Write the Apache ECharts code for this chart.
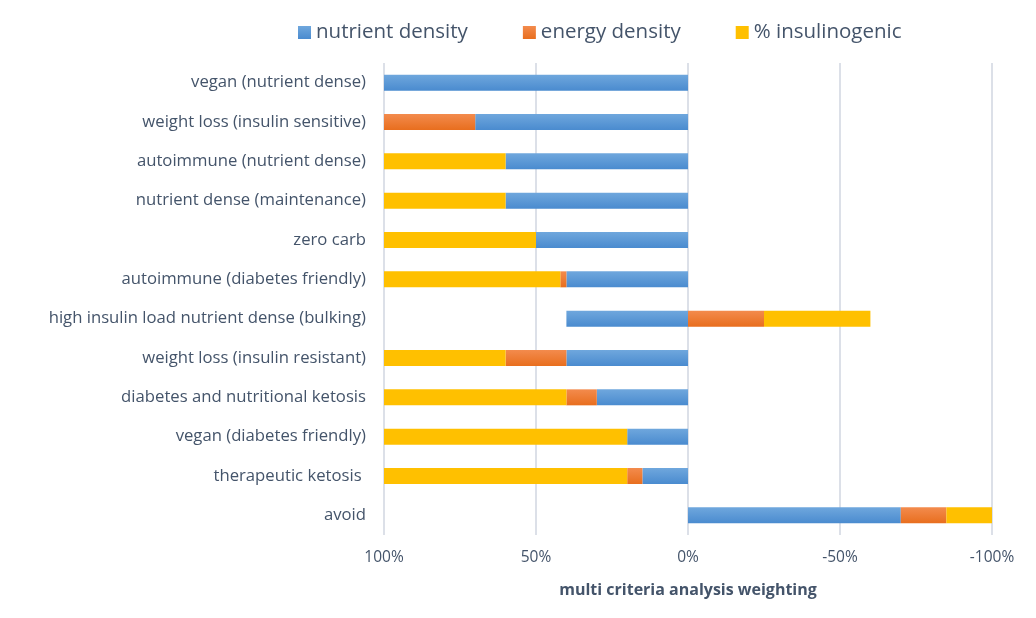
<!DOCTYPE html>
<html>
<head>
<meta charset="utf-8">
<script src="https://cdn.jsdelivr.net/npm/echarts@6/dist/echarts.min.js"></script>
<style>
html,body{margin:0;padding:0;background:#fff;}
#c{width:1036px;height:618px;}
</style>
</head>
<body>
<div id="c"></div>
<script>
const categories = [
  "vegan (nutrient dense)",
  "weight loss (insulin sensitive)",
  "autoimmune (nutrient dense)",
  "nutrient dense (maintenance)",
  "zero carb",
  "autoimmune (diabetes friendly)",
  "high insulin load nutrient dense (bulking)",
  "weight loss (insulin resistant)",
  "diabetes and nutritional ketosis",
  "vegan (diabetes friendly)",
  "therapeutic ketosis ",
  "avoid"
];
const nutrientDensity = [100, 70, 60, 60, 50, 40, 40, 40, 30, 20, 15, -70];
const energyDensity   = [0, 30, 0, 0, 0, 2, -25, 20, 10, 0, 5, -15];
const insulinogenic   = [0, 0, 40, 40, 50, 58, -35, 40, 60, 80, 80, -15];
const xTicks = [100, 50, 0, -50, -100];

const font = "'Open Sans', 'Liberation Sans', sans-serif";
const textColor = "#44546A";

function grad(top, bottom) {
  return new echarts.graphic.LinearGradient(0, 0, 0, 1, [
    {offset: 0, color: top}, {offset: 1, color: bottom}
  ]);
}

const chart = echarts.init(document.getElementById('c'));
chart.setOption({
  animation: false,
  textStyle: {fontFamily: font},
  legend: {
    top: 17,
    left: 293,
    itemWidth: 13,
    itemHeight: 13,
    itemGap: 55,
    icon: 'rect',
    textStyle: {fontSize: 20.5, color: textColor, fontFamily: font},
    data: ['nutrient density', 'energy density', '% insulinogenic']
  },
  grid: {left: 384, right: 44, top: 63, bottom: 83, containLabel: false},
  xAxis: {
    type: 'value',
    inverse: true,
    min: -100,
    max: 100,
    interval: 50,
    axisLine: {show: false},
    axisTick: {show: false},
    splitLine: {show: true, lineStyle: {color: '#DCE0E8', width: 2}},
    axisLabel: {
      fontSize: 15.5, color: textColor, margin: 15, fontFamily: font,
      formatter: v => (xTicks.indexOf(v) >= 0 ? v + '%' : '')
    },
    name: 'multi criteria analysis weighting',
    nameLocation: 'middle',
    nameGap: 47,
    nameTextStyle: {fontSize: 16, fontWeight: 'bold', color: textColor, fontFamily: font}
  },
  yAxis: {
    type: 'category',
    inverse: true,
    data: categories,
    axisLine: {show: false},
    axisTick: {show: false},
    splitLine: {show: false},
    axisLabel: {fontSize: 16.7, color: textColor, margin: 18, fontFamily: font}
  },
  series: [
    {name: 'nutrient density', type: 'bar', stack: 'total', barWidth: 16,
     data: nutrientDensity, itemStyle: {color: grad('#6fa7dd', '#4a8bcf')}},
    {name: 'energy density', type: 'bar', stack: 'total', barWidth: 16,
     data: energyDensity, itemStyle: {color: grad('#f38b4d', '#e86e1e')}},
    {name: '% insulinogenic', type: 'bar', stack: 'total', barWidth: 16,
     data: insulinogenic, itemStyle: {color: '#FFC000'}}
  ]
});
</script>
</body>
</html>
